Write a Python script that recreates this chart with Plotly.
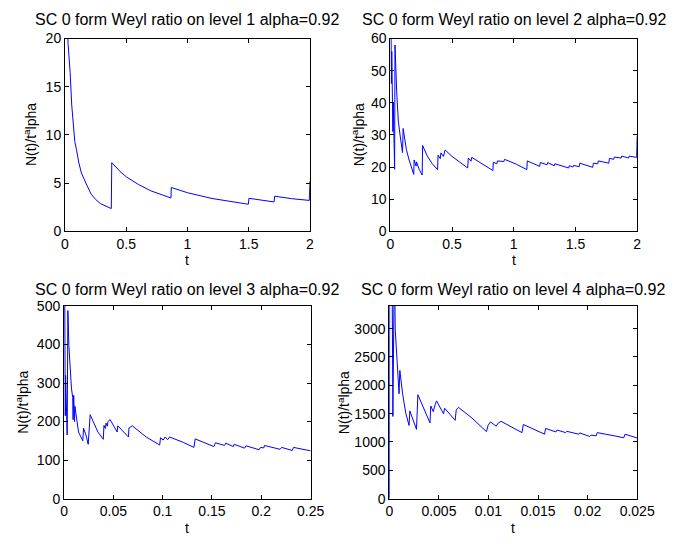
import plotly.graph_objects as go

# ---------------- data ----------------
alpha_label = "0.92"
levels = [1, 2, 3, 4]

t1 = [0.019, 0.021, 0.025, 0.029, 0.035, 0.042, 0.055, 0.0685, 0.08, 0.095, 0.113, 0.134, 0.154,
      0.174, 0.213, 0.25, 0.29, 0.33, 0.378,
      0.382, 0.45, 0.5, 0.6, 0.7, 0.8, 0.865, 0.868, 1.0, 1.2, 1.4, 1.497, 1.502, 1.6, 1.707, 1.712,
      1.85, 1.995, 2.0]
y1 = [22, 20, 19.5, 18.8, 17.8, 16.5, 13.1, 10.4, 9.3, 8.4, 7.1, 6.05, 5.4,
      4.9, 3.86, 3.3, 2.86, 2.6, 2.35,
      7.12, 6.2, 5.65, 4.85, 4.2, 3.75, 3.45, 4.54, 4.0, 3.4, 2.95, 2.8, 3.42, 3.22, 3.04, 3.64,
      3.38, 3.2, 5.2]

t2 = [0.003, 0.009, 0.012, 0.021, 0.024, 0.035, 0.038, 0.052, 0.065, 0.078, 0.092, 0.099, 0.104,
      0.118, 0.13, 0.15, 0.17, 0.19, 0.193, 0.209, 0.212, 0.235, 0.258, 0.262, 0.3, 0.34, 0.383,
      0.387, 0.405, 0.41, 0.43, 0.444, 0.5, 0.56, 0.627, 0.632, 0.654, 0.66, 0.72, 0.78, 0.831,
      0.835, 0.863, 0.868, 0.92, 0.925, 1.02, 1.106, 1.11, 1.21, 1.215, 1.27, 1.275, 1.328, 1.333,
      1.445, 1.45, 1.48, 1.485, 1.53, 1.535, 1.64, 1.645, 1.68, 1.685, 1.77, 1.775, 1.81, 1.815,
      1.87, 1.875, 1.93, 1.935, 1.996, 2.0]
y2 = [80, 46, 56, 31, 40, 19.3, 58, 43.4, 34.3, 30.3, 26.5, 24.5, 32,
      28.3, 25.5, 22.5, 19.8, 17.7, 22.2, 20.3, 21.6, 19.2, 17.5, 26.7, 23.4, 21.0, 19.2,
      23.7, 22.6, 24.4, 23.3, 25.3, 23.3, 21.5, 19.7, 22.8, 21.8, 23.0, 21.5, 20.1, 18.9,
      21.5, 21.0, 21.9, 21.7, 22.4, 20.9, 19.2, 21.9, 20.2, 21.4, 20.7, 21.4, 20.4, 21.0,
      19.7, 20.4, 20.0, 20.5, 20.1, 21.2, 19.9, 21.2, 21.0, 21.9, 21.2, 22.7, 22.4, 23.1,
      22.8, 23.4, 22.8, 23.4, 23.0, 29.5]

t3 = [0.0002, 0.0010, 0.0013, 0.0016, 0.0032, 0.0039, 0.0049, 0.0059, 0.0075, 0.0088, 0.0092,
      0.0098, 0.0106, 0.0110, 0.0147, 0.0190, 0.0198, 0.0228, 0.0245, 0.0265, 0.0343, 0.0398,
      0.0405, 0.0420, 0.0425, 0.0440, 0.0445, 0.0467, 0.0539, 0.0545, 0.0653, 0.0658, 0.0692,
      0.0833, 0.0970, 0.0978, 0.1005, 0.1025, 0.1050, 0.1070, 0.1209, 0.1317, 0.1330, 0.1520,
      0.1535, 0.1627, 0.1640, 0.1716, 0.1725, 0.1830, 0.1846, 0.1977, 0.1993, 0.2025, 0.2032,
      0.2190, 0.2206, 0.2314, 0.2326, 0.2500]
y3 = [800, 330, 215, 320, 165, 488, 398, 339, 287, 262, 205,
      268, 200, 240, 173, 150, 183, 160, 141, 218, 173, 154,
      190, 182, 196, 188, 200, 205, 173, 189, 160, 183, 189,
      160, 139, 158, 152, 160, 153, 160, 146, 133, 155, 135,
      145, 138, 144, 135, 141, 131, 137, 127, 133, 131.5, 138,
      128, 133, 125, 133, 124]

t4 = [0.00002, 0.00004, 0.00028, 0.00036, 0.00052, 0.00059, 0.00069, 0.00085, 0.00098, 0.00106,
      0.00134, 0.00166, 0.00199, 0.00207, 0.00241, 0.00274, 0.00288, 0.00345, 0.00410, 0.00418,
      0.00443, 0.00463, 0.00476, 0.00547, 0.00558, 0.00664, 0.00675, 0.00697, 0.00834, 0.00980,
      0.00996, 0.01020, 0.01078, 0.01094, 0.01126, 0.01338, 0.01352, 0.01566, 0.01576, 0.01680,
      0.01692, 0.01778, 0.01790, 0.01910, 0.01920, 0.02020, 0.02035, 0.02087, 0.02097, 0.02270,
      0.02364, 0.02378, 0.02500]
y4 = [0, 8000, 4000, 1450, 4500, 2994, 2651, 2251, 1851, 2262,
      1851, 1508, 1291, 1548, 1365, 1222, 1834, 1594, 1337, 1634,
      1537, 1662, 1725, 1497, 1594, 1382, 1565, 1611, 1422, 1182,
      1291, 1354, 1279, 1325, 1365, 1165, 1308, 1137, 1239, 1177,
      1211, 1165, 1188, 1137, 1160, 1097, 1120, 1108, 1165, 1108,
      1074, 1137, 1070]

series_t = [t1, t2, t3, t4]
series_y = [y1, y2, y3, y4]

x_ranges = [[0, 2], [0, 2], [0, 0.25], [0, 0.025]]
y_ranges = [[0, 20], [0, 60], [0, 500], [0, 3400]]
x_tickvals = [[0, 0.5, 1, 1.5, 2], [0, 0.5, 1, 1.5, 2],
              [0, 0.05, 0.1, 0.15, 0.2, 0.25], [0, 0.005, 0.01, 0.015, 0.02, 0.025]]
x_ticktext = [["0", "0.5", "1", "1.5", "2"], ["0", "0.5", "1", "1.5", "2"],
              ["0", "0.05", "0.1", "0.15", "0.2", "0.25"],
              ["0", "0.005", "0.01", "0.015", "0.02", "0.025"]]
y_tickvals = [[0, 5, 10, 15, 20], [0, 10, 20, 30, 40, 50, 60],
              [0, 100, 200, 300, 400, 500], [0, 500, 1000, 1500, 2000, 2500, 3000]]
y_ticktext = [["0", "5", "10", "15", "20"], ["0", "10", "20", "30", "40", "50", "60"],
              ["0", "100", "200", "300", "400", "500"],
              ["0", "500", "1000", "1500", "2000", "2500", "3000"]]

# ---------------- layout geometry ----------------
W, H = 691, 544
FONT = "Liberation Sans, Arial, Helvetica, sans-serif"
x_doms_px = [(63, 316), (399, 654), (62, 316.7), (398, 654)]
y_doms_px = [(31.5, 230), (31.5, 230), (307, 505.5), (307, 505.5)]
title_y_px = [12, 12, 290, 290]
xlabel_y_px = [260, 260, 536, 536]
ylabel_x_px = [27, 366, 19, 351]

fig = go.Figure()
layout = dict(
    width=W, height=H, margin=dict(l=0, r=0, t=0, b=0),
    paper_bgcolor="white", plot_bgcolor="white", showlegend=False,
    font=dict(family=FONT, size=14, color="black"),
)
annotations = []
for i in range(4):
    k = "" if i == 0 else str(i + 1)
    xa, ya = "x" + k, "y" + k
    fig.add_trace(go.Scatter(x=series_t[i], y=series_y[i], mode="lines",
                             line=dict(color="#0000ff", width=1),
                             xaxis=xa, yaxis=ya, hoverinfo="skip"))
    x0, x1 = x_doms_px[i]
    yt, yb = y_doms_px[i]
    common = dict(showline=True, mirror="allticks", linecolor="black", linewidth=1,
                  ticks="inside", ticklen=4, tickcolor="black", showgrid=False,
                  zeroline=False, tickfont=dict(family=FONT, size=14, color="black"))
    layout["xaxis" + k] = dict(domain=[x0 / W, x1 / W], anchor=ya, range=x_ranges[i],
                               tickvals=x_tickvals[i], ticktext=x_ticktext[i], **common)
    layout["yaxis" + k] = dict(domain=[1 - yb / H, 1 - yt / H], anchor=xa, range=y_ranges[i],
                               tickvals=y_tickvals[i], ticktext=y_ticktext[i], **common)
    cx = (x0 + x1) / 2 / W
    annotations.append(dict(text=f"SC 0 form Weyl ratio on level {levels[i]} alpha={alpha_label}",
                            xref="paper", yref="paper", x=cx, y=1 - title_y_px[i] / H,
                            xanchor="center", yanchor="middle", showarrow=False,
                            font=dict(family=FONT, size=16, color="black")))
    annotations.append(dict(text="t", xref="paper", yref="paper", x=cx,
                            y=1 - xlabel_y_px[i] / H, xanchor="center", yanchor="middle",
                            showarrow=False, font=dict(family=FONT, size=14, color="black")))
    annotations.append(dict(text="N(t)/t<sup>a</sup>lpha", xref="paper", yref="paper",
                            x=ylabel_x_px[i] / W, y=1 - (yt + yb) / 2 / H, textangle=-90,
                            xanchor="center", yanchor="middle", showarrow=False,
                            font=dict(family=FONT, size=14, color="black")))
layout["annotations"] = annotations
fig.update_layout(**layout)
fig.write_html("out.html")
